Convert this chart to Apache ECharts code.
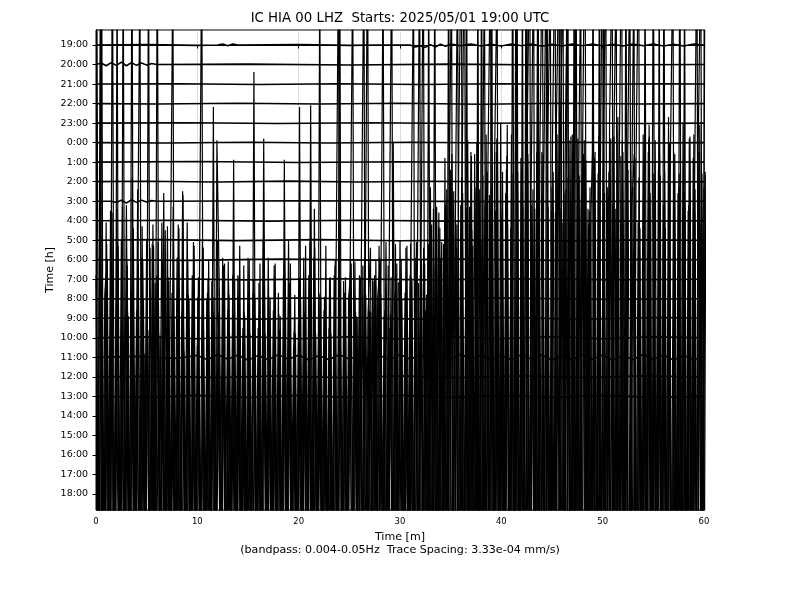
<!DOCTYPE html>
<html><head><meta charset="utf-8">
<script src="https://cdn.jsdelivr.net/npm/echarts@6/dist/echarts.min.js"></script>
<style>html,body{margin:0;padding:0;background:#fff}#c{width:800px;height:600px}</style>
</head><body><div id="c"></div>
<script>
const titleText = 'IC HIA 00 LHZ  Starts: 2025/05/01 19:00 UTC';
const xName = 'Time [m]';
const subName = '(bandpass: 0.004-0.05Hz  Trace Spacing: 3.33e-04 mm/s)';
const yName = 'Time [h]';
const hourLabels = ['19:00','20:00','21:00','22:00','23:00','0:00','1:00','2:00','3:00','4:00','5:00','6:00','7:00','8:00','9:00','10:00','11:00','12:00','13:00','14:00','15:00','16:00','17:00','18:00'];
const xTicks = [0,10,20,30,40,50,60];
const traceSpacing = 3.33e-4;   // mm/s per trace row
const ampUnit = 3.0e-4;         // mm/s per unit of the active-trace amplitudes
const sampleStep = 0.25;        // minutes between samples of the active traces
const traceStartSec = [0, 7, 3, 11, 5]; // first-sample offsets of the active traces (s)

// quiet traces: [minute, amplitude in trace spacings]
const tr19 = [[0,0],[5,0.02],[10,-0.02],[12,0],[12.5,0.05],[13,-0.04],[13.5,0.05],[14,0],[20,0.02],[25,-0.02],[28,0],[31,0],[31.5,-0.1],[32,-0.04],[32.5,-0.12],[33,0.02],[33.5,-0.1],[34,0.04],[34.5,-0.06],[35,0.05],[36,-0.04],[37,0.05],[38,-0.05],[39,0.04],[40,-0.05],[41,0.05],[42,-0.04],[43,0.05],[44,-0.06],[45,0.04],[46,-0.05],[47,0.05],[48,-0.04],[49,0.05],[50,-0.05],[51,0.04],[52,-0.05],[53,0.05],[54,-0.04],[55,0.05],[56,-0.05],[57,0.04],[58,-0.05],[59,0.05],[60,0]];
const tr20 = [[0,0],[0.5,0.08],[1,-0.06],[1.5,0.1],[2,-0.04],[2.5,0.12],[3,-0.06],[3.5,0.1],[4,-0.04],[4.5,0.08],[5,-0.03],[5.5,0.05],[6,0],[15,0.02],[25,-0.02],[35,0.02],[45,-0.02],[60,0]];
const tr21 = [[0,0],[8,0.02],[16,-0.02],[24,0.02],[32,-0.02],[40,0.02],[48,-0.02],[56,0.02],[60,0]];
const tr22 = [[0,0],[6,-0.02],[14,0.02],[22,-0.02],[30,0.02],[38,-0.03],[46,0.02],[54,-0.02],[60,0]];
const tr23 = [[0,0],[9,0.02],[18,-0.02],[27,0.02],[36,-0.02],[45,0.02],[54,-0.02],[60,0]];
const tr00 = [[0,0],[7,-0.02],[15,0.02],[23,-0.02],[31,0.02],[39,-0.02],[47,0.02],[55,-0.02],[60,0]];
const tr01 = [[0,0],[10,0.03],[20,-0.02],[30,0.02],[40,-0.03],[50,0.02],[60,0]];
const tr02 = [[0,0],[5,0.02],[12,-0.02],[19,0.03],[26,-0.02],[33,0.02],[41,-0.02],[49,0.02],[57,-0.02],[60,0]];
const tr03 = [[0,0],[1.5,0],[2,-0.06],[2.5,0.05],[3,-0.09],[3.5,0.07],[4,-0.06],[4.5,0.05],[5,-0.04],[5.5,0.03],[6,0],[20,0.02],[40,-0.02],[60,0]];
const tr04 = [[0,0],[8,0.02],[17,-0.02],[26,0.02],[35,-0.02],[44,0.02],[53,-0.02],[60,0]];
const tr05 = [[0,0],[6,0.03],[14,-0.02],[22,0.03],[30,-0.03],[38,0.02],[46,-0.03],[54,0.02],[60,0]];
const tr06 = [[0,0],[9,-0.03],[18,0.03],[27,-0.02],[36,0.03],[45,-0.03],[54,0.02],[60,0]];
const tr07 = [[0,0],[7,0.03],[15,-0.03],[24,0.03],[33,-0.03],[42,0.03],[51,-0.03],[60,0]];
const tr08 = [[0,0],[10,-0.03],[20,0.04],[30,-0.03],[40,0.04],[50,-0.03],[60,0]];
const tr09 = [[0,0],[8,0.04],[16,-0.04],[24,0.04],[32,-0.04],[40,0.04],[48,-0.04],[56,0.04],[60,0]];
const tr10 = [[0,0],[5,0.05],[10,-0.05],[15,0.06],[20,-0.05],[25,0.05],[30,-0.06],[35,0.05],[40,-0.05],[45,0.06],[50,-0.05],[55,0.05],[60,0]];
const tr11 = [[0,0],[4,0.05],[8,-0.05],[10,0.1],[11,-0.12],[12,0.15],[13,-0.1],[14,0.12],[15,-0.15],[16,0.1],[17,-0.12],[18,0.14],[19,-0.1],[20,0.12],[21,-0.14],[22,0.1],[23,-0.12],[24,0.15],[25,-0.1],[26,0.12],[27,-0.14],[28,0.1],[29,-0.12],[30,0.15],[31,-0.1],[32,0.12],[33,-0.14],[34,0.1],[35,-0.12],[36,0.16],[37,-0.1],[38,0.12],[39,-0.15],[40,0.1],[41,-0.12],[42,0.14],[43,-0.1],[44,0.12],[45,-0.15],[46,0.1],[47,-0.12],[48,0.15],[49,-0.1],[50,0.12],[51,-0.14],[52,0.1],[53,-0.12],[54,0.15],[55,-0.1],[56,0.12],[57,-0.14],[58,0.1],[59,-0.12],[60,0.05]];
const tr12 = [[0,0],[6,0.04],[12,-0.04],[18,0.05],[24,-0.04],[30,0.05],[36,-0.04],[42,0.05],[48,-0.04],[54,0.05],[60,0]];
const tr13 = [[0,0],[5,-0.05],[10,0.05],[15,-0.06],[20,0.05],[25,-0.05],[30,0.06],[35,-0.05],[40,0.05],[45,-0.06],[50,0.05],[55,-0.05],[60,0]];

// active traces (14:00 .. 18:00), one sample every 0.25 min, amplitude in units of 3.0e-4 mm/s
const amp14 = [8,-10,6,-12, 11,-7,9,-8, 5,-11,10,-9, 12,-8,7,-10, 6,-12,9,-7, 10,-9,4,-11, 8,-6,11,-10, 5,-10,7,-8, 9,-12,6,-9, 11,-7,8,-11,
 4,-9,10,-6, 7,-11,5,-10, 10,-8,9,-7, 6,-10,8,-9, 8,-6,5,-12, 9,-9,7,-8, 5,-11,10,-6, 9,-7,6,-10, 7,-12,8,-9, 10,-8,4,-7,
 6,-10,9,-11, 8,-9,9,-8, 7,-7,6,-10, 5,-12,8,-9, 10,-6,7,-11, 7,-9,5,-8, 8,-11,9,-7, 6,-10,8,-12, 9,-8,6,-9, 5,-11,7,-10,
 10,-9,7,-6, 8,-12,9,-11, 8,-7,6,-10, 13,-11,10,-9, 9,-13,12,-8, 14,-10,11,-14, 12,-15,9,-11, 15,-9,13,-12, 10,-14,16,-13, 13,-11,15,-16,
 11,-13,14,-10, 16,-15,12,-14, 14,-12,30,-13, 12,-16,15,-11, 15,-18,30,-22, 13,-14,16,-12, 11,-17,30,-15, 16,-13,12,-18, 14,30,-21,13, -12,15,-16,12,
 30,-14,13,-11, 12,-15,17,-13, 15,-12,14,-16, 13,-17,11,-12, 16,-13,15,-15, 30,-22,14,-12, 12,-16,17,-14, 15,-11,13,-15, 14,-17,12,-13, 16,-12,15,-16,
 13];
const amp15 = [-9,12,-11,8, 10,-13,30,-18, 11,-8,13,-10, 7,-12,9,-6, 14,-9,10,-11, 6,-10,12,-8, 11,-7,8,-13, 9,-11,13,-9, 12,-6,7,-10, 8,-12,11,-7,
 9,-9,6,-11, 10,-8,7,-6, 7,-11,9,-12, 8,-7,6,-9, 9,-10,7,-8, 10,-6,8,-11, 7,-9,9,-10, 6,-8,9,-7, 6,-11,10,-9, 8,-7,8,-12,
 9,-9,7,-6, 11,-10,6,-8, 8,-12,7,-9, 9,-7,10,-11, 6,-10,9,-8, 10,-6,7,-12, 9,-9,8,-7, 7,-11,10,-10, 8,-8,11,-9, 9,-13,7,-7,
 10,-10,8,-12, 9,-8,11,-11, 10,-14,8,-9, 12,-11,13,-10, 11,-16,14,-12, 16,-13,12,-18, 14,30,-24,13, -15,16,-12,14, -17,13,15,-14, 12,-18,16,-11,
 15,-13,12,-19, 30,-14,15,-12, 13,-19,16,-15, 14,-12,30,-18, 16,-15,13,-13, 15,-20,12,30, -24,14,-16,17, -13,30,-18,13, 16,-14,12,-17, 14,-19,17,-12,
 13,-16,15,-20, 17,-12,14,30, -23,15,-17,13, 16,-14,12,-18, 14,-13,17,-15, 12,-19,16,-11, 15,-14,13,-17, 16,-12,30,-22, 13,-15,17,-13, 14,-18,12,-14,
 15];
const amp16 = [10,-14,30,-19, 12,-8,9,-13, 14,-10,7,-11, 11,-9,30,-20, 8,-12,13,-7, 10,-15,12,-9, 30,-18,11,-8, 13,-11,8,-14, 9,-7,15,-10, 11,-13,8,-6,
 9,-9,6,-11, 10,-12,9,-8, 7,-10,10,-13, 11,-6,8,-9, 9,-11,7,-12, 8,-8,10,-10, 6,-13,18,-7, 9,-9,7,-11, 8,-12,11,-6, 9,-10,7,-13,
 10,-7,8,-10, 7,-14,14,-9, 7,-11,9,-8, 10,-9,8,-12, 30,-19,9,-10, 9,-13,11,-8, 10,-10,8,30, -20,10,-11,9, 11,-9,8,-15, 8,-12,12,-8,
 10,-14,9,-11, 12,-10,9,-13, 9,30,-22,12, -12,14,-10,13, -15,12,-17,30, -24,15,-13,18, 30,-23,14,-16, 17,-12,15,-19, 30,-25,16,-14, 30,-24,18,-15,
 13,-20,17,-12, 16,-14,30,-26, 15,-17,18,30, -25,14,-18,17, 30,-23,16,-15, 18,30,-26,14, -19,17,30,-24, 15,-16,18,-13, 17,-20,14,-17, 30,-26,16,-12,
 15,30,-24,18, -15,14,-19,17, -13,30,-25,15, -18,17,30,-23, 14,-16,18,-12, 16,-19,15,-14, 30,-24,17,-16, 13,-18,16,-11, 15,-13,18,-17, 14,30,-25,16,
 -12];
const amp17 = [-12,30,-20,11, -9,15,-14,8, 13,-10,30,-18, 9,-13,14,-7, 12,-16,10,-8, 30,-21,13,-10, 8,-12,16,-9, 11,-7,9,-14, 14,-10,7,-12, 10,-8,13,-11,
 9,30,-19,10, -9,11,-11,19, 10,-7,12,-14, 8,-12,11,-9, 13,-8,9,-10, 8,-11,10,-7, 12,-13,8,-9, 10,-7,12,-12, 9,-10,11,-8, 12,-12,8,-9,
 10,-8,13,-11, 21,-13,8,-7, 10,-9,13,-12, 8,-14,11,30, -20,11,-9,10, 12,-11,9,-13, 12,30,-22,10, -12,11,-8,13, -10,9,-14,12, 30,-21,12,-9,
 10,-13,13,-10, 11,-11,9,30, -23,12,-15,14, -12,30,-24,14, -16,18,-13,15, -18,12,30,-25, 16,-14,19,-11, 13,-20,30,-26, 17,-15,18,30, -24,15,-19,20,
 -13,16,-21,14, -17,30,-26,18, -14,30,-25,16, 30,-27,19,-15, 17,30,-24,15, -18,20,30,-26, 16,-13,19,-20, 30,-25,17,-14, 19,-16,15,-21, 18,-12,30,-24,
 16,-19,20,30, -26,17,-14,19, -15,16,30,-23, 18,-17,14,-20, 30,-25,16,-13, 19,-15,17,-19, 14,-21,18,30, -24,16,-13,20, -17,15,-20,18, -14,19,30,-22,
 17];
const amp18 = [30,-18,12,-14, 9,-20,16,-12, 30,-22,10,-15, 13,-9,18,-20, 11,30,-24,8, -11,14,-7,12, -16,9,-10,15, -8,12,30,-19, 10,-13,17,-9, 11,-15,8,-12,
 11,-10,14,-16, 10,-8,22,-11, 9,-14,13,-9, 12,-6,19,-13, 10,-11,13,-7, 6,-9,24,-12, 12,-12,9,-5, 10,-10,13,-8, 9,-14,19,-6, 12,-9,10,-11,
 22,-7,10,-13, 11,-12,14,-9, 30,-20,11,-10, 10,-13,13,-8, 12,-11,10,-15, 13,30,-22,10, -9,13,-12,10, 14,-10,12,-14, 9,30,-18,13, -11,20,-9,12,
 12,-15,14,-8, 14,30,-25,12, -10,14,-13,30, -21,13,-9,16, -14,11,-18,16, 30,-24,14,-17, 18,-12,30,-26, 15,-19,20,-10, 13,30,-22,17, -14,19,30,-28,
 16,-13,21,-18, 12,-20,18,-15, 30,-26,19,-16, 14,-22,30,-24, 17,-15,20,30, -28,16,-19,21, 30,-25,18,-14, 20,-17,15,30, -27,19,-13,16, 21,-18,14,-20,
 30,-26,17,-15, 19,30,-24,13, -16,20,-19,15, 30,-23,18,-14, 16,-20,21,-12, 14,-17,30,-25, 18,-13,20,-16, 15,-21,17,-11, 30,-24,19,-15, 16,-18,21,-13,
 30];

const quietTraces = [tr19,tr20,tr21,tr22,tr23,tr00,tr01,tr02,tr03,tr04,tr05,tr06,tr07,tr08,tr09,tr10,tr11,tr12,tr13];
const activeTraces = [amp14,amp15,amp16,amp17,amp18];

const series = [];
quietTraces.forEach((tr, i) => {
  series.push({type:'line', data: tr.map(p => [p[0], -i + p[1]]), showSymbol:false, silent:true,
    lineStyle:{color:'#000', width:1.6}, z:2});
});
activeTraces.forEach((amp, j) => {
  const i = quietTraces.length + j;
  const t0 = traceStartSec[j] / 60;
  series.push({type:'line',
    data: amp.map((v, k) => [t0 + k*sampleStep, -i + v*ampUnit/traceSpacing]),
    showSymbol:false, silent:true, lineStyle:{color:'#000', width:1.2}, z:2});
});

const rowValues = hourLabels.map((_, i) => -i);
const font = 'DejaVu Sans';
const chart = echarts.init(document.getElementById('c'), null, {renderer:'canvas'});
chart.setOption({
  animation:false,
  backgroundColor:'#fff',
  title:{text:titleText, left:'center', top:12, padding:0,
    textStyle:{fontFamily:font, fontSize:13.3, fontWeight:'normal', color:'#000'}},
  grid:{left:96, right:96, top:30, bottom:90, containLabel:false, outerBoundsMode:'none',
    show:true, borderColor:'#000', borderWidth:1, backgroundColor:'transparent'},
  xAxis:{type:'value', min:xTicks[0], max:xTicks[xTicks.length-1], interval:10,
    name: xName + '\n' + subName, nameLocation:'middle', nameGap:21,
    nameTextStyle:{fontFamily:font, fontSize:11.1, color:'#000', lineHeight:12.5},
    axisLine:{show:true, lineStyle:{color:'#000', width:1}},
    axisTick:{show:true, inside:false, length:3.5, lineStyle:{color:'#000'}},
    axisLabel:{fontFamily:font, fontSize:8.5, color:'#000', margin:7},
    splitLine:{show:true, lineStyle:{color:'#aaaaaa', type:'dotted', width:0.8}}},
  yAxis:{type:'value', min:-23.82, max:0.77,
    name:yName, nameLocation:'middle', nameGap:40, nameRotate:90, nameMoveOverlap:false,
    nameTextStyle:{fontFamily:font, fontSize:11, color:'#000'},
    axisLine:{show:true, lineStyle:{color:'#000', width:1}},
    axisTick:{show:true, inside:false, length:3.5, customValues:rowValues, lineStyle:{color:'#000'}},
    axisLabel:{fontFamily:font, fontSize:9.5, color:'#000', margin:8, customValues:rowValues,
      formatter:(v) => hourLabels[Math.round(-v)] || ''},
    splitLine:{show:false}},
  series: series
});
</script></body></html>
